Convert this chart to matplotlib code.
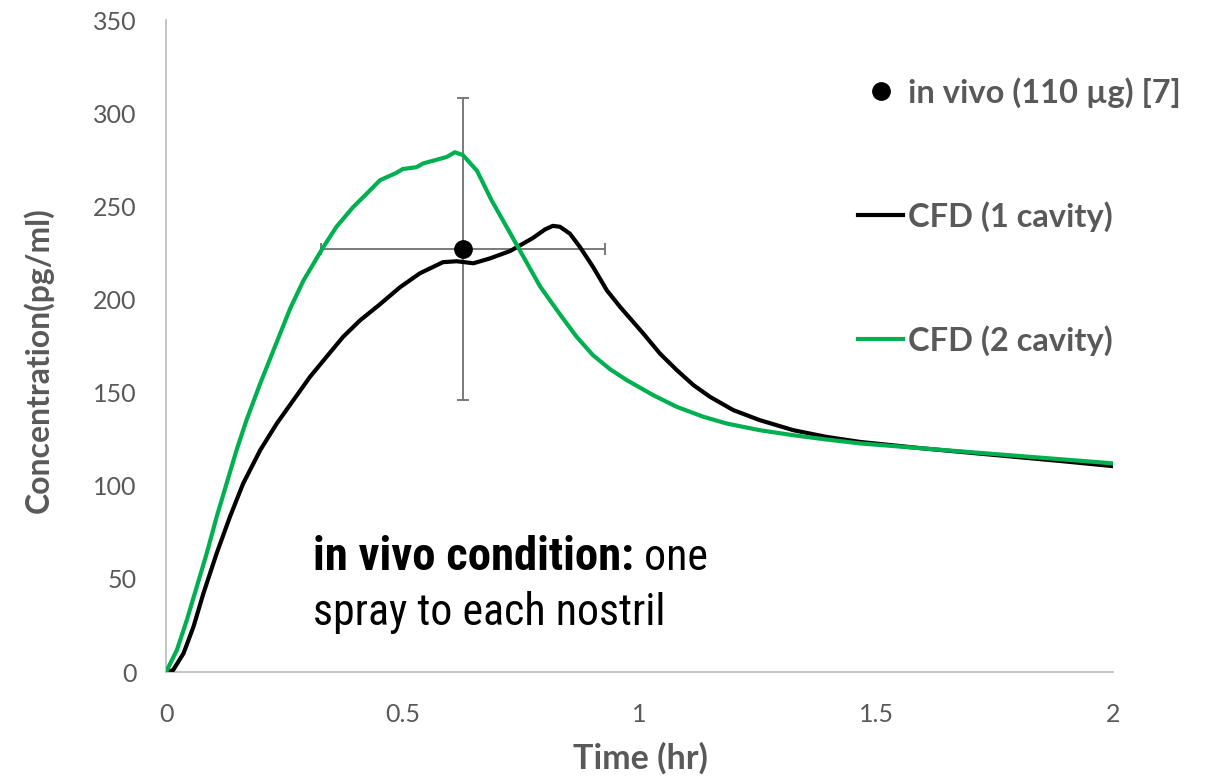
import matplotlib
matplotlib.use("Agg")
import matplotlib.pyplot as plt
from matplotlib.lines import Line2D
from matplotlib import font_manager
from matplotlib.font_manager import FontProperties

# ---------------- data ----------------
t_cfd1 = [0, 0.015, 0.037, 0.058, 0.079, 0.107, 0.135, 0.163, 0.199, 0.234,
          0.269, 0.304, 0.339, 0.374, 0.41, 0.45, 0.494, 0.536, 0.585, 0.614,
          0.649, 0.684, 0.727, 0.775, 0.80, 0.817, 0.832, 0.853, 0.874, 0.902,
          0.931, 0.959, 1.008, 1.043, 1.079, 1.114, 1.149, 1.198, 1.254, 1.325,
          1.395, 1.466, 1.6, 1.75, 1.9, 2.0]
c_cfd1 = [0, 1, 10, 24.3, 42.2, 63.7, 83.3, 101.2, 119.1, 133.4,
          145.9, 158.4, 169.2, 179.9, 188.8, 197, 206.5, 214, 220, 220.5,
          219.4, 222, 226, 233, 237.5, 239.5, 239, 235.3, 228.2, 217.4,
          204.9, 196, 181.7, 171, 162, 154, 147.7, 140.6, 135.2, 129.8,
          126.2, 123.5, 120, 116.5, 113, 110.5]

t_cfd2 = [0, 0.023, 0.044, 0.065, 0.086, 0.107, 0.128, 0.149, 0.170, 0.199,
          0.227, 0.262, 0.29, 0.332, 0.36, 0.395, 0.424, 0.452, 0.487, 0.5,
          0.529, 0.543, 0.572, 0.593, 0.61, 0.627, 0.657, 0.688, 0.727, 0.748,
          0.79, 0.832, 0.867, 0.902, 0.938, 0.973, 1.029, 1.079, 1.135, 1.184,
          1.254, 1.325, 1.395, 1.466, 1.6, 1.75, 1.9, 2.0]
c_cfd2 = [0, 11.8, 27.9, 45.8, 63.7, 83.3, 101.2, 119.1, 135.2, 154.9,
          172.7, 195, 210, 228, 239, 249.5, 256.8, 264, 268, 270,
          271, 273, 275, 276.5, 279, 277.5, 269, 253, 235.5, 226,
          207, 192, 180, 170, 162.5, 156.7, 148.6, 142.3, 137, 133.4,
          129.8, 127.1, 124.8, 122.7, 120, 117, 114, 112]

t_vivo = [0.627]
c_vivo = [227]
t_vivo_err = [0.30]
c_vivo_err = [81]

labels = ["in vivo (110 µg) [7]", "CFD (1 cavity)", "CFD (2 cavity)"]
xticks = [0, 0.5, 1, 1.5, 2]
xtick_labels = ["0", "0.5", "1", "1.5", "2"]
yticks = [0, 50, 100, 150, 200, 250, 300, 350]
note_bold = "in vivo condition:"
note_rest = " one"
note_line2 = "spray to each nostril"

# ---------------- style ----------------
GREEN = "#00B050"
GRAY = "#595959"
AXIS = "#BFBFBF"
fm = font_manager.fontManager.ttflist
names = {f.name for f in fm}
BASE = "Lato" if "Lato" in names else "DejaVu Sans"


def pick_narrow(bold):
    best = None
    for f in fm:
        fn = f.fname.lower()
        nm = f.name.lower()
        if not ("narrow" in fn or "condensed" in fn or "narrow" in nm
                or "condensed" in nm):
            continue
        if "italic" in fn or "oblique" in fn:
            continue
        isbold = "bold" in fn
        if isbold != bold:
            continue
        score = 0
        if "liberation" in fn or "arial" in fn:
            score = 3
        elif "roboto" in fn:
            score = 2
        elif "dejavu" in fn:
            score = 1
        if "semi" in fn or "extra" in fn or "light" in fn or "black" in fn:
            score -= 0.5
        if best is None or score > best[0]:
            best = (score, f.fname)
    return best[1] if best else None


nr = pick_narrow(False)
nb = pick_narrow(True)
fp_reg = FontProperties(fname=nr) if nr else FontProperties(family="Liberation Sans")
fp_bold = FontProperties(fname=nb) if nb else FontProperties(family="Liberation Sans",
                                                                weight="bold")

W, H = 1209, 776
fig = plt.figure(figsize=(W / 100, H / 100), dpi=100)
ax = fig.add_axes([166 / W, 1 - 672 / H, (1113 - 166) / W, (672 - 20) / H])
renderer = fig.canvas.get_renderer()


def fit(txt, target_px):
    w = txt.get_window_extent(renderer).width
    txt.set_fontsize(txt.get_fontsize() * target_px / w)


ax.plot(t_cfd1, c_cfd1, color="black", lw=3.0, solid_joinstyle="round",
        solid_capstyle="round", zorder=3)
ax.plot(t_cfd2, c_cfd2, color=GREEN, lw=3.0, solid_joinstyle="round",
        solid_capstyle="round", zorder=4)
ax.errorbar(t_vivo, c_vivo, xerr=t_vivo_err, yerr=c_vivo_err, fmt="none",
            ecolor="#707070", elinewidth=1.3, capsize=4.5, capthick=1.3, zorder=2)
ax.plot(t_vivo, c_vivo, "o", color="black", ms=12.5, zorder=5)

ax.set_xlim(0, 2)
ax.set_ylim(0, 350)
ax.set_xticks(xticks, xtick_labels)
ax.set_yticks(yticks)
for s in ["top", "right"]:
    ax.spines[s].set_visible(False)
for s in ["left", "bottom"]:
    ax.spines[s].set_color(AXIS)
    ax.spines[s].set_linewidth(1.3)
ax.tick_params(length=0, labelsize=18, labelcolor=GRAY)
ax.tick_params(axis="y", pad=21)
ax.tick_params(axis="x", pad=22)
for lab in ax.get_xticklabels() + ax.get_yticklabels():
    lab.set_fontfamily(BASE)

yl = fig.text(38 / W, 1 - 360 / H, "Concentration(pg/ml)", rotation=90, ha="center",
              va="center", fontsize=20, fontweight="bold", color=GRAY, family=BASE)
yl.set_fontsize(20 * 306 / yl.get_window_extent(renderer).height)
xl = fig.text(640 / W, 1 - 758 / H, "Time (hr)", ha="center", va="center",
              fontsize=20, fontweight="bold", color=GRAY, family=BASE)
fit(xl, 135)

handles = [
    Line2D([], [], marker="o", ls="none", color="black", ms=12.5),
    Line2D([], [], color="black", lw=3.0),
    Line2D([], [], color=GREEN, lw=3.0),
]
LFS = 23.5
leg = ax.legend(handles, labels, loc="upper left",
                bbox_to_anchor=(858 / W, 1 - 77 / H), bbox_transform=fig.transFigure,
                frameon=False, borderpad=0, borderaxespad=0,
                handlelength=1.38, handletextpad=0.15, labelspacing=2.86,
                prop={"family": BASE, "weight": "bold", "size": LFS})
for txt in leg.get_texts():
    txt.set_color(GRAY)

t2 = ax.text(0.31, 25.2, note_line2, fontproperties=fp_reg, fontsize=33,
             color="black", va="baseline", ha="left")
fit(t2, 352)
fs_note = t2.get_fontsize()
t1 = ax.text(0.31, 54.7, note_bold, fontproperties=fp_bold, fontsize=fs_note,
             color="black", va="baseline", ha="left")
fit(t1, 322)
bb = t1.get_window_extent(renderer)
x_rest = ax.transData.inverted().transform((bb.x1, 0))[0]
ax.text(x_rest, 54.7, note_rest, fontproperties=fp_reg, fontsize=fs_note,
        color="black", va="baseline", ha="left")

fig.savefig("out.png", dpi=100)
